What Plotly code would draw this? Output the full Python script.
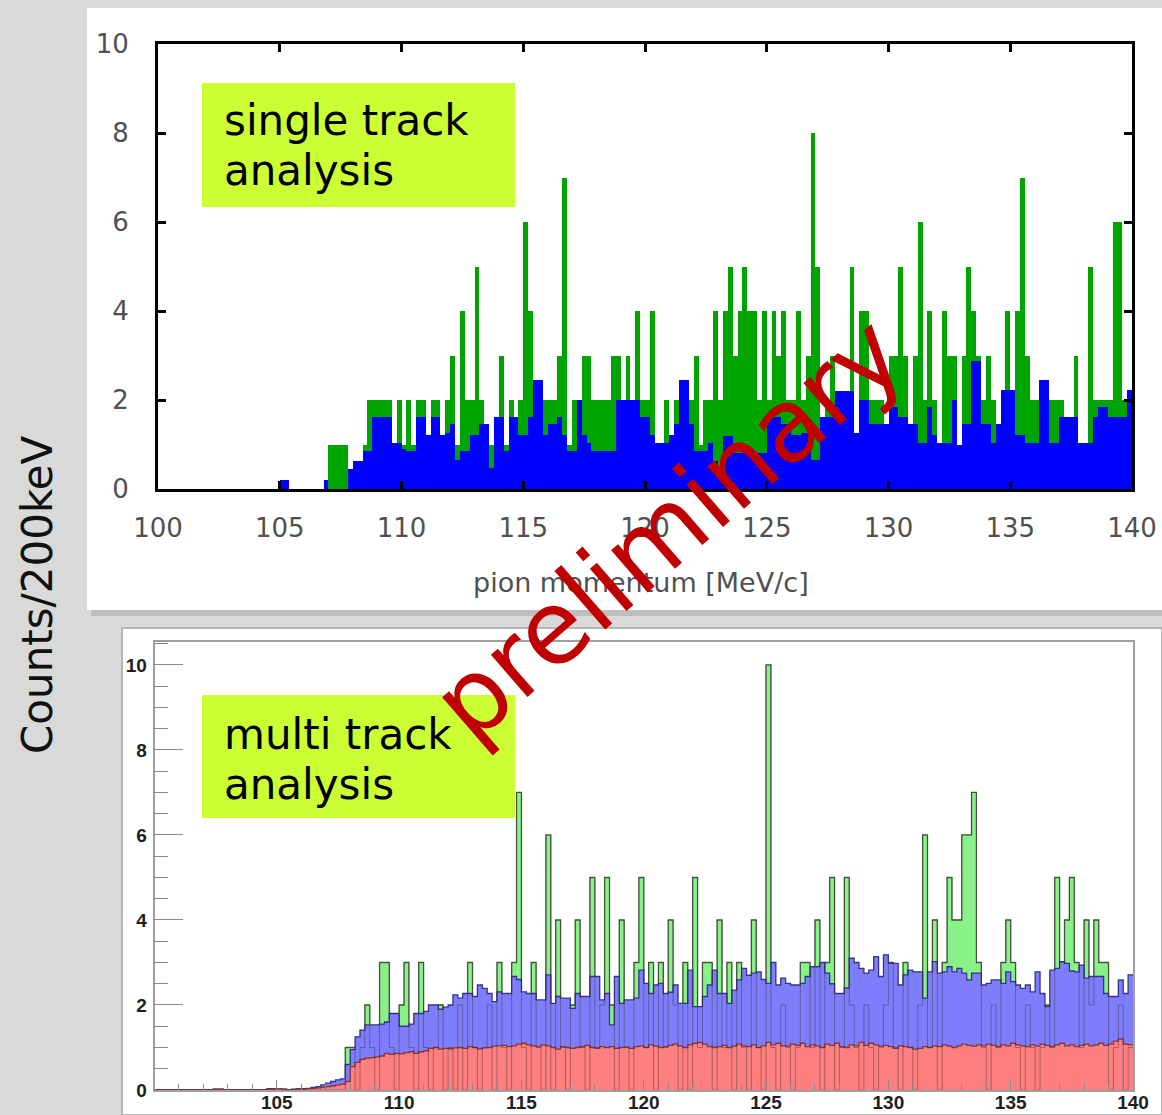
import plotly.graph_objects as go

# ---------------- data (counts per 200 keV bin, 100 - 140 MeV/c) ----------------
X_MIN = 100.0
BIN_W = 0.2

# single track analysis: data (green) and background (blue)
top_green = [
    0, 0, 0, 0, 0, 0, 0, 0, 0, 0,
    0, 0, 0, 0, 0, 0, 0, 0, 0, 0,
    0, 0, 0, 0, 0, 0, 0, 0, 0, 0,
    0, 0, 0, 0, 0, 1, 1, 1, 1, 0,
    0, 0, 1, 2, 2, 2, 2, 2, 1, 2,
    1, 2, 1, 2, 2, 1, 2, 2, 1, 2,
    3, 1, 4, 2, 2, 5, 2, 1, 1, 1,
    3, 1, 2, 1, 2, 6, 4, 2, 1, 2,
    2, 2, 3, 7, 1, 2, 2, 3, 3, 2,
    2, 2, 2, 3, 3, 2, 3, 2, 4, 2,
    2, 4, 1, 1, 2, 1, 2, 2, 2, 2,
    3, 1, 2, 2, 4, 2, 4, 5, 3, 4,
    5, 4, 4, 2, 4, 2, 4, 3, 4, 2,
    2, 4, 2, 3, 8, 5, 1, 2, 3, 2,
    2, 2, 5, 1, 4, 4, 2, 2, 2, 1,
    3, 3, 5, 3, 1, 3, 6, 2, 4, 2,
    1, 4, 3, 3, 1, 3, 5, 4, 3, 2,
    3, 2, 1, 2, 4, 2, 4, 7, 3, 2,
    2, 2, 2, 2, 2, 2, 1, 1, 3, 1,
    1, 5, 2, 2, 2, 2, 6, 6, 2, 2,
]
top_blue = [
    0, 0, 0, 0, 0, 0, 0, 0, 0, 0,
    0, 0, 0, 0, 0, 0, 0, 0, 0, 0,
    0, 0, 0, 0, 0, 0.2, 0.2, 0, 0, 0,
    0, 0, 0, 0, 0.2, 0, 0, 0, 0, 0.45,
    0.64, 0.64, 0.86, 0.86, 1.62, 1.62, 1.62, 1.62, 1.03, 1.03,
    0.9, 0.85, 0.85, 1.62, 1.62, 1.22, 1.62, 1.62, 1.22, 1.25,
    1.46, 0.65, 0.85, 0.85, 1.22, 1.22, 1.45, 1.45, 0.48, 1.62,
    1.62, 0.85, 1.62, 1.62, 1.22, 1.22, 1.62, 2.45, 2.45, 1.22,
    1.45, 1.45, 1.62, 1.22, 0.85, 0.85, 2.0, 1.22, 1.03, 0.85,
    0.85, 0.85, 0.85, 0.85, 2.0, 2.0, 2.0, 2.0, 2.0, 1.62,
    1.62, 1.22, 1.03, 1.03, 1.03, 1.22, 1.45, 2.45, 2.45, 1.45,
    0.85, 0.85, 0.85, 1.03, 0.64, 0.5, 1.2, 1.2, 0.8, 0.8,
    0.8, 0.8, 0.8, 0.8, 0.8, 1.62, 1.62, 1.62, 1.45, 1.45,
    1.22, 1.22, 1.25, 1.25, 0.65, 0.65, 1.62, 1.62, 1.62, 2.2,
    2.2, 2.2, 2.2, 1.25, 2.0, 2.0, 1.45, 1.45, 1.45, 1.45,
    1.85, 1.85, 1.62, 1.62, 1.45, 1.45, 1.03, 1.03, 1.85, 1.22,
    1.03, 1.03, 1.03, 2.0, 1.0, 1.45, 1.45, 2.88, 2.88, 1.45,
    1.45, 1.03, 1.45, 2.22, 2.22, 2.22, 1.22, 1.22, 1.03, 1.03,
    1.03, 2.45, 2.45, 1.03, 1.03, 1.62, 1.62, 1.62, 1.62, 1.03,
    1.03, 1.03, 1.62, 1.85, 1.85, 1.62, 1.62, 1.62, 1.62, 2.22,
]

# multi track analysis: data (green), total background (blue), component (red)
bot_green = [
    0, 0, 0, 0, 0, 0, 0, 0, 0, 0,
    0, 0, 0, 0, 0, 0, 0, 0, 0, 0,
    0, 0, 0, 0, 0, 0, 0, 0, 0, 0,
    0, 0, 0, 0, 0, 0, 0, 0, 0, 1,
    1, 0, 1, 2, 1, 0, 3, 3, 1, 0,
    2, 3, 1, 0, 3, 1, 0, 1, 2, 0,
    1, 0, 2, 0, 3, 1, 0, 1, 2, 0,
    3, 1, 0, 3, 7, 1, 0, 3, 1, 0,
    6, 0, 4, 1, 0, 2, 4, 1, 0, 5,
    1, 2, 5, 2, 0, 4, 1, 0, 3, 5,
    1, 3, 0, 3, 1, 4, 2, 0, 3, 0,
    5, 1, 3, 3, 0, 4, 1, 3, 0, 3,
    1, 0, 4, 1, 0, 10, 1, 0, 2, 1,
    0, 1, 3, 3, 1, 4, 0, 3, 5, 0,
    1, 5, 2, 1, 0, 2, 1, 0, 1, 2,
    3, 1, 0, 3, 1, 0, 2, 6, 1, 4,
    0, 3, 5, 4, 4, 6, 6, 7, 3, 1,
    0, 2, 1, 3, 4, 3, 1, 0, 2, 1,
    0, 1, 2, 1, 5, 3, 4, 5, 3, 1,
    4, 2, 4, 3, 3, 0, 1, 2, 0, 1,
]
bot_blue = [
    0, 0, 0, 0, 0, 0, 0, 0, 0, 0,
    0, 0, 0.02, 0.02, 0, 0, 0, 0, 0, 0,
    0, 0, 0, 0.03, 0.03, 0.03, 0.02, 0, 0.02, 0.03,
    0.03, 0.04, 0.06, 0.08, 0.12, 0.16, 0.2, 0.24, 0.26, 0.6,
    0.95, 1.25, 1.41, 1.53, 1.53, 1.53, 1.55, 1.6, 1.8, 1.8,
    1.5, 1.5, 1.55, 1.8, 1.8, 1.85, 2.0, 2.0, 1.9, 1.95,
    2.0, 2.24, 2.16, 2.27, 2.27, 2.2, 2.47, 2.39, 2.27, 2.08,
    2.31, 2.27, 2.27, 2.67, 2.6, 2.31, 2.27, 2.27, 2.12, 2.12,
    2.71, 2.04, 2.2, 2.16, 2.16, 1.92, 2.27, 2.2, 2.2, 2.67,
    2.67, 2.12, 2.27, 1.53, 2.67, 2.04, 2.12, 2.12, 2.16, 2.82,
    2.51, 2.27, 2.47, 2.51, 2.27, 2.3, 2.47, 2.04, 2.04, 2.82,
    1.96, 1.96, 2.2, 2.47, 2.82, 2.27, 2.27, 2.04, 2.35, 2.59,
    2.86, 2.7, 2.75, 2.78, 2.6, 2.51, 3.0, 2.47, 2.63, 2.51,
    2.47, 2.47, 2.51, 2.67, 2.9, 2.9, 3.0, 2.75, 2.5, 2.27,
    2.27, 2.4, 3.1, 3.0, 2.86, 2.75, 2.82, 3.14, 2.67, 3.18,
    2.98, 2.98, 2.47, 2.71, 2.82, 2.78, 2.78, 2.16, 2.78, 3.02,
    2.75, 2.78, 2.9, 2.78, 2.86, 2.75, 2.59, 2.75, 2.75, 2.47,
    2.51, 2.59, 2.59, 2.51, 2.78, 2.55, 2.47, 2.39, 2.47, 2.31,
    2.78, 2.27, 1.96, 2.82, 2.86, 3.02, 2.98, 2.8, 2.78, 2.94,
    2.63, 2.67, 2.67, 2.67, 2.27, 2.2, 2.2, 2.59, 2.27, 2.71,
]
bot_red = [
    0, 0, 0, 0, 0, 0, 0, 0, 0, 0,
    0, 0, 0.02, 0.02, 0, 0, 0, 0, 0, 0,
    0, 0, 0, 0.02, 0.02, 0.03, 0.02, 0, 0.01, 0.02,
    0.02, 0.03, 0.04, 0.05, 0.06, 0.08, 0.1, 0.12, 0.14, 0.2,
    0.55, 0.65, 0.72, 0.75, 0.76, 0.78, 0.8, 0.86, 0.84, 0.86,
    0.85, 0.88, 0.9, 0.86, 0.9, 0.92, 0.98, 1.0, 0.96, 0.98,
    0.97, 0.99, 1.0, 0.98, 1.02, 1.0, 0.97, 0.99, 1.0, 1.03,
    1.04, 1.05, 1.02, 1.04, 1.08, 1.1, 1.06, 1.04, 1.02, 1.06,
    1.04, 1.0, 0.96, 1.02, 1.0, 0.98, 1.0, 1.02, 1.05, 1.0,
    0.98, 1.02, 1.0, 1.02, 0.98, 1.0, 1.01, 0.98, 1.02, 1.04,
    1.0, 1.06, 1.03, 1.0, 1.02, 1.05, 1.08, 1.03, 1.0, 1.06,
    1.1, 1.12, 1.08, 1.02, 1.0, 1.02, 1.05, 1.0, 1.03, 1.08,
    1.04, 1.02, 1.06, 1.0, 1.04, 1.12, 1.06, 1.1, 1.04, 1.03,
    1.08, 1.05, 1.1, 1.02, 1.06, 1.04, 1.0, 1.08, 1.05, 1.1,
    1.02, 1.0, 1.06, 1.04, 1.12, 1.05, 1.1, 1.06, 1.03, 1.05,
    1.02, 0.98, 1.04, 1.02, 1.0, 0.96, 0.98, 1.02, 1.0, 1.04,
    1.02, 1.06, 1.03, 1.0, 1.04, 1.08, 1.05, 1.03, 1.06, 1.04,
    1.08, 1.05, 1.02, 1.06, 1.04, 1.1, 1.06, 1.04, 1.02, 1.06,
    1.03, 1.08, 1.05, 1.02, 1.06, 1.1, 1.04, 1.06, 1.02, 1.05,
    1.08, 1.04, 1.06, 1.1, 1.05, 1.08, 1.15, 1.2, 1.08, 1.06,
]

top_xticks = [100, 105, 110, 115, 120, 125, 130, 135, 140]
top_yticks = [0, 2, 4, 6, 8, 10]
bot_xticks = [105, 110, 115, 120, 125, 130, 135, 140]
bot_yticks = [0, 2, 4, 6, 8, 10]

# ---------------- helpers ----------------
W, H = 1162, 1115
def px(x):
    return x / W
def py(y):
    return 1 - y / H

n = len(top_green)
centers = [X_MIN + BIN_W * (i + 0.5) for i in range(n)]
edges = [X_MIN + BIN_W * i for i in range(n + 1)]

def step_y(vals):
    return list(vals) + [vals[-1]]

fig = go.Figure()

# top panel bars
fig.add_trace(go.Bar(x=centers, y=top_green, width=BIN_W, xaxis='x', yaxis='y',
                     marker=dict(color='#00a400', line=dict(width=0)), showlegend=False))
fig.add_trace(go.Bar(x=centers, y=top_blue, width=BIN_W, xaxis='x', yaxis='y',
                     marker=dict(color='#0000ff', line=dict(width=0)), showlegend=False))

# bottom panel step histograms
for vals, fillc, linec in [(bot_green, '#88f288', '#4a6a4a'),
                           (bot_blue, '#7e7efc', '#343488'),
                           (bot_red, '#fd7f7f', '#8a3434')]:
    fig.add_trace(go.Scatter(x=edges, y=step_y(vals), xaxis='x2', yaxis='y2',
                             mode='lines', line=dict(shape='hv', color=linec, width=1.3),
                             fill='tozeroy', fillcolor=fillc, showlegend=False,
                             hoverinfo='skip'))
# faint outline of data histogram seen through the fills
fig.add_trace(go.Scatter(x=edges, y=step_y(bot_green), xaxis='x2', yaxis='y2',
                         mode='lines', line=dict(shape='hv', color='rgba(60,40,40,0.40)', width=1),
                         showlegend=False, hoverinfo='skip'))

axis_font_top = dict(family='DejaVu Sans', size=26, color='#505050')
axis_font_bot = dict(family='Liberation Sans', size=19, color='#1e1e1e', weight='bold')

fig.update_layout(
    template='none',
    width=W, height=H, margin=dict(l=0, r=0, t=0, b=0, pad=0, autoexpand=False),
    paper_bgcolor='#d9d9d9', plot_bgcolor='white',
    barmode='overlay', bargap=0, showlegend=False,
    xaxis=dict(domain=[px(158), px(1132)], range=[100, 140], anchor='y', automargin=False,
               tickmode='array', tickvals=top_xticks, ticks='inside', ticklen=8,
               tickwidth=2.5, tickcolor='black', showline=True, linecolor='black',
               linewidth=3, mirror='ticks', showgrid=False, zeroline=False,
               tickfont=axis_font_top, ticklabelstandoff=14),
    yaxis=dict(domain=[py(489), py(44)], range=[0, 10], anchor='x', automargin=False,
               tickmode='array', tickvals=top_yticks, ticks='inside', ticklen=8,
               tickwidth=2.5, tickcolor='black', showline=True, linecolor='black',
               linewidth=3, mirror='ticks', showgrid=False, zeroline=False,
               tickfont=axis_font_top, ticklabelstandoff=21),
    xaxis2=dict(domain=[px(154.5), px(1133)], range=[100, 140], anchor='y2', automargin=False,
                tickmode='array', tickvals=bot_xticks, ticks='inside', ticklen=10,
                tickwidth=1.2, tickcolor='#8a8a8a', showline=True, linecolor='#a0a0a0',
                linewidth=1.5, mirror=True, showgrid=False, zeroline=False,
                minor=dict(ticks='inside', ticklen=6, tickmode='linear', tick0=100,
                           dtick=1, tickcolor='#8a8a8a', tickwidth=1.2, showgrid=False),
                tickfont=axis_font_bot, ticklabelstandoff=-6),
    yaxis2=dict(domain=[py(1090), py(642)], range=[0, 10.54], anchor='x2', automargin=False,
                tickmode='array', tickvals=bot_yticks, ticks='inside', ticklen=29,
                tickwidth=1.2, tickcolor='#8a8a8a', showline=True, linecolor='#a0a0a0',
                linewidth=1.5, mirror=True, showgrid=False, zeroline=False,
                minor=dict(ticks='inside', ticklen=14, tickmode='linear', tick0=0,
                           dtick=0.5, tickcolor='#8a8a8a', tickwidth=1.2, showgrid=False),
                tickfont=axis_font_bot, ticklabelstandoff=2),
)

shapes = [
    # shadow and white card of the upper panel
    dict(type='rect', xref='paper', yref='paper', x0=px(91), x1=1.0, y0=py(616), y1=py(12),
         fillcolor='#bdbdbd', line=dict(width=0), layer='below'),
    dict(type='rect', xref='paper', yref='paper', x0=px(87), x1=1.0, y0=py(610), y1=py(8),
         fillcolor='white', line=dict(width=0), layer='below'),
    # white card of the lower panel
    dict(type='rect', xref='paper', yref='paper', x0=px(122), x1=1.0, y0=0, y1=py(628),
         fillcolor='white', line=dict(color='#b5b5b5', width=2), layer='below'),
    # label boxes
    dict(type='rect', xref='paper', yref='paper', x0=px(202), x1=px(515), y0=py(207), y1=py(83),
         fillcolor='#ccff33', line=dict(width=0), layer='above'),
    dict(type='rect', xref='paper', yref='paper', x0=px(202), x1=px(515), y0=py(818), y1=py(695),
         fillcolor='#ccff33', line=dict(width=0), layer='above'),
]
fig.update_layout(shapes=shapes)

label_font = dict(family='DejaVu Sans', size=42, color='black')
ann = []
for txt, yc in [('single track', 121), ('analysis', 171), ('multi track', 734), ('analysis', 784)]:
    ann.append(dict(text=txt, x=px(222), y=py(yc), xref='paper', yref='paper',
                    xanchor='left', yanchor='middle', showarrow=False, font=label_font))
ann.append(dict(text='Counts/200keV', x=px(37), y=py(595), xref='paper', yref='paper',
                xanchor='center', yanchor='middle', textangle=-90, showarrow=False,
                font=dict(family='DejaVu Sans', size=42, color='#111111')))
ann.append(dict(text='pion momentum [MeV/c]', x=px(641), y=py(582), xref='paper', yref='paper',
                xanchor='center', yanchor='middle', showarrow=False,
                font=dict(family='DejaVu Sans', size=27, color='#505050')))
ann.append(dict(text='preliminary', x=px(667), y=py(528), xref='paper', yref='paper',
                xanchor='center', yanchor='middle', textangle=-41, showarrow=False,
                font=dict(family='DejaVu Sans', size=102, color='#c00000')))
fig.update_layout(annotations=ann)

fig.write_html("out.html")
